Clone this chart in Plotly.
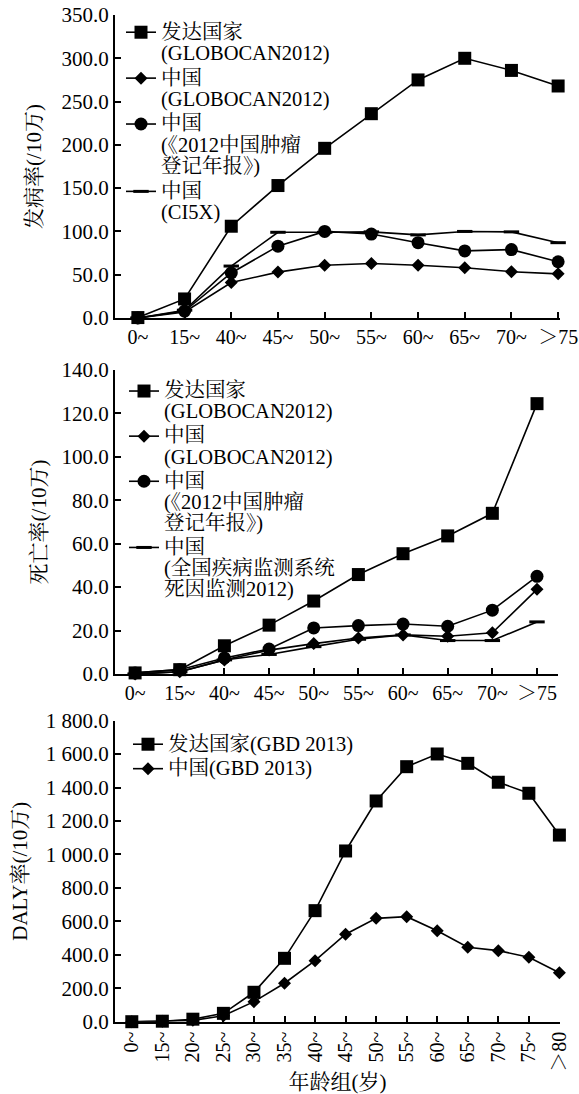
import plotly.graph_objects as go

# ---------------- data ----------------
ages_a = ["0~", "15~", "40~", "45~", "50~", "55~", "60~", "65~", "70~", "＞75"]
inc_dev = [0.5, 22, 106, 153, 196, 236, 275, 300, 286, 268]
inc_cn_glob = [0, 7, 41, 53, 61, 63, 61, 58, 53.5, 51]
inc_cn_2012 = [0, 8, 52, 83, 100, 97, 87, 77.5, 79, 65]
inc_cn_ci5 = [0, 9, 60, 99, 99, 99.5, 96, 100, 99.5, 87]

mort_dev = [0.5, 2, 13, 22.5, 33.6, 45.8, 55.4, 63.6, 74, 124.5]
mort_cn_glob = [0, 1, 6.5, 11, 14, 16.6, 18, 17.4, 19, 39]
mort_cn_2012 = [0.5, 2, 7.4, 11.5, 21.2, 22.3, 23, 22, 29.4, 45]
mort_cn_dsp = [0, 1, 6.5, 9, 12.6, 16, 18, 15.4, 15.4, 24]

ages_b = ["0~", "15~", "20~", "25~", "30~", "35~", "40~", "45~", "50~",
          "55~", "60~", "65~", "70~", "75~", "＞80"]
daly_dev = [0, 3, 15, 50, 176, 379, 664, 1021, 1320, 1525, 1601, 1545, 1432, 1366, 1116]
daly_cn = [0, 2, 8, 35, 120, 230, 365, 523, 618, 628, 544, 445, 425, 385, 293]

names_inc = ["发达国家<br>(GLOBOCAN2012)", "中国<br>(GLOBOCAN2012)",
             "中国<br>(《2012中国肿瘤<br>登记年报》)", "中国<br>(CI5X)"]
names_mort = ["发达国家<br>(GLOBOCAN2012)", "中国<br>(GLOBOCAN2012)",
              "中国<br>(《2012中国肿瘤<br>登记年报》)", "中国<br>(全国疾病监测系统<br>死因监测2012)"]
names_daly = ["发达国家(GBD 2013)", "中国(GBD 2013)"]

FONT = "Liberation Serif, Times New Roman, Noto Serif CJK SC, Noto Sans CJK SC, serif"
W, H = 579, 1094


def big(t):
    s = "<span style='font-size:20.5px'>"
    return s + t.replace("<br>", "</span><br>" + s) + "</span>"


styles = [
    dict(symbol="square", size=13),
    dict(symbol="diamond", size=10),
    dict(symbol="circle", size=13),
    dict(symbol="line-ew", size=11, line=dict(width=3, color="black")),
]

fig = go.Figure()

sets = [
    ("x", "y", "legend", ages_a, [inc_dev, inc_cn_glob, inc_cn_2012, inc_cn_ci5], names_inc),
    ("x2", "y2", "legend2", ages_a, [mort_dev, mort_cn_glob, mort_cn_2012, mort_cn_dsp], names_mort),
    ("x3", "y3", "legend3", ages_b, [daly_dev, daly_cn], names_daly),
]
for xa, ya, lg, cats, series, names in sets:
    for i, (vals, nm) in enumerate(zip(series, names)):
        st = dict(styles[i])
        st.setdefault("line", dict(width=0))
        fig.add_trace(go.Scatter(
            x=cats, y=vals, xaxis=xa, yaxis=ya, legend=lg,
            mode="lines+markers", name=big(nm),
            line=dict(color="black", width=1.6),
            marker=dict(color="black", **st),
            cliponaxis=False,
        ))

axis_common = dict(showline=True, linecolor="black", linewidth=2, ticks="inside",
                   tickcolor="black", tickwidth=1.5, ticklen=6, showgrid=False,
                   zeroline=False, mirror=False, automargin=False)


def px_x(p):
    return p / W


def px_y(p):
    return 1 - p / H


fig.update_layout(
    width=W, height=H, margin=dict(l=0, r=0, t=0, b=0, autoexpand=False),
    paper_bgcolor="white", plot_bgcolor="white",
    font=dict(family=FONT, color="black", size=21),
    separators=". ",
    xaxis=dict(axis_common, type="category", domain=[px_x(115), px_x(560)], range=[-0.49, 9.04],
               anchor="y", tickfont=dict(size=20), tickangle=0),
    yaxis=dict(axis_common, domain=[px_y(318), px_y(15)], range=[0, 350], dtick=50,
               tickformat=".1f", anchor="x", tickfont=dict(size=21),
               title=dict(text="发病率(/10万)", font=dict(size=21), standoff=14)),
    xaxis2=dict(axis_common, type="category", domain=[px_x(115), px_x(558)], range=[-0.45, 9.47],
                anchor="y2", tickfont=dict(size=20), tickangle=0),
    yaxis2=dict(axis_common, domain=[px_y(674), px_y(370)], range=[0, 140], dtick=20,
                tickformat=".1f", anchor="x2", tickfont=dict(size=21),
                title=dict(text="死亡率(/10万)", font=dict(size=21), standoff=9)),
    xaxis3=dict(axis_common, type="category", domain=[px_x(115), px_x(560)], range=[-0.55, 14.02],
                anchor="y3", tickfont=dict(size=20), tickangle=-90,
                title=dict(text="年龄组(岁)", font=dict(size=21), standoff=4)),
    yaxis3=dict(axis_common, domain=[px_y(1021.7), px_y(720.7)], range=[0, 1800], dtick=200,
                tickformat=",.1f", anchor="x3", tickfont=dict(size=21),
                title=dict(text="DALY率(/10万)", font=dict(size=21), standoff=12)),
    legend=dict(x=px_x(121), y=px_y(15), xanchor="left", yanchor="top", valign="top",
                bgcolor="rgba(0,0,0,0)", font=dict(size=16.5, family=FONT), tracegroupgap=0),
    legend2=dict(x=px_x(124), y=px_y(374), xanchor="left", yanchor="top", valign="top",
                 bgcolor="rgba(0,0,0,0)", font=dict(size=16.2, family=FONT), tracegroupgap=0),
    legend3=dict(x=px_x(128), y=px_y(727), xanchor="left", yanchor="top", valign="top",
                 bgcolor="rgba(0,0,0,0)", font=dict(size=16.5, family=FONT), tracegroupgap=0),
    showlegend=True,
)

fig.write_html("out.html")
